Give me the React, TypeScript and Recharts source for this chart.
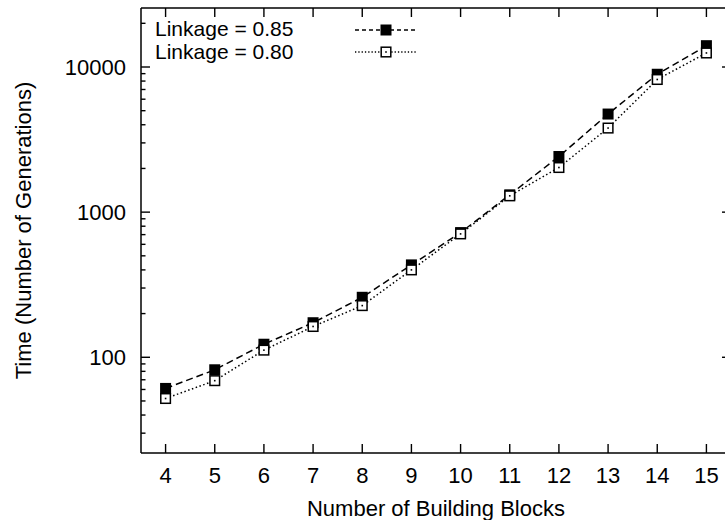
import React from "react";
import {
  Label,
  Legend,
  Line,
  LineChart,
  ReferenceLine,
  XAxis,
  YAxis
} from "recharts";

const blocks = [4, 5, 6, 7, 8, 9, 10, 11, 12, 13, 14, 15];
const linkage85 = [61, 82, 123, 173, 259, 433, 723, 1316, 2417, 4741, 8913, 14025];
const linkage80 = [52, 69, 112, 163, 227, 400, 708, 1295, 2030, 3796, 8204, 12493];

const majorTicks = [100, 1000, 10000];
const minorTicks = [
  30, 40, 50, 60, 70, 80, 90,
  200, 300, 400, 500, 600, 700, 800, 900,
  2000, 3000, 4000, 5000, 6000, 7000, 8000, 9000,
  20000
];

const X_DOMAIN: [number, number] = [3.5, 15.5];
const Y_DOMAIN: [number, number] = [21.9, 25500];

const FONT = '"Liberation Sans", Arial, Helvetica, sans-serif';
const FONT_SIZE = 22;
const PLOT_W = 590;
const PLOT_H = 445;

const data = blocks.map((b, i) => ({ blocks: b, l85: linkage85[i], l80: linkage80[i] }));
const yTicks = [...majorTicks, ...minorTicks].sort((a, b) => a - b);

function XTick({ x, y, payload }: any) {
  return (
    <g>
      <line x1={x} y1={y} x2={x} y2={y - 9} stroke="#000" strokeWidth={1.4} />
      <line x1={x} y1={y - PLOT_H} x2={x} y2={y - PLOT_H + 9} stroke="#000" strokeWidth={1.4} />
      <text x={x} y={y + 30} textAnchor="middle" fontFamily={FONT} fontSize={FONT_SIZE} fill="#000">
        {payload.value}
      </text>
    </g>
  );
}

function YTick({ x, y, payload }: any) {
  const major = majorTicks.includes(payload.value);
  const len = major ? 9 : 4.5;
  return (
    <g>
      <line x1={x} y1={y} x2={x + len} y2={y} stroke="#000" strokeWidth={1.4} />
      <line x1={x + PLOT_W} y1={y} x2={x + PLOT_W - len} y2={y} stroke="#000" strokeWidth={1.4} />
      {major && (
        <text x={x - 15} y={y + 7.5} textAnchor="end" fontFamily={FONT} fontSize={FONT_SIZE} fill="#000">
          {payload.value}
        </text>
      )}
    </g>
  );
}

function FilledSquare({ cx, cy }: any) {
  if (cx == null || cy == null) return null;
  return <rect x={cx - 5.5} y={cy - 5.5} width={11} height={11} fill="#000" />;
}

function OpenSquare({ cx, cy }: any) {
  if (cx == null || cy == null) return null;
  return (
    <g>
      <rect x={cx - 4.8} y={cy - 4.8} width={9.6} height={9.6} fill="#fff" stroke="#000" strokeWidth={1.5} />
      <rect x={cx - 0.8} y={cy - 0.8} width={1.6} height={1.6} fill="#000" />
    </g>
  );
}

const legendRows = [
  { name: "Linkage = 0.85", dash: "4 3", filled: true },
  { name: "Linkage = 0.80", dash: "1.3 2", filled: false }
];

function LegendBox() {
  return (
    <svg width={280} height={72} style={{ display: "block" }}>
      {legendRows.map((row, i) => {
        const base = 35.5 + i * 23.5;
        const ly = 30 + i * 22;
        return (
          <g key={row.name}>
            <text x={7} y={base} fontFamily={FONT} fontSize={21} fill="#000">
              {row.name}
            </text>
            <line x1={207} y1={ly} x2={268} y2={ly} stroke="#000" strokeWidth={1.4} strokeDasharray={row.dash} />
            {row.filled ? <FilledSquare cx={238} cy={ly} /> : <OpenSquare cx={238} cy={ly} />}
          </g>
        );
      })}
    </svg>
  );
}

export default function App() {
  return (
    <div
      style={{
        position: "absolute",
        left: 0,
        top: 0,
        width: 725,
        height: 520,
        overflow: "hidden",
        background: "#fff"
      }}
    >
      <LineChart
        width={740}
        height={520}
        data={data}
        margin={{ top: 8, right: 9, bottom: 0, left: 81 }}
      >
        <XAxis
          dataKey="blocks"
          type="number"
          domain={X_DOMAIN}
          ticks={blocks}
          allowDataOverflow
          interval={0}
          height={67}
          tickSize={0}
          tickMargin={0}
          tickLine={false}
          tick={<XTick />}
          axisLine={{ stroke: "#000", strokeWidth: 1.5 }}
        >
          <Label
            content={({ viewBox }: any) => (
              <text
                x={viewBox.x + viewBox.width / 2}
                y={viewBox.y + 63}
                textAnchor="middle"
                fontFamily={FONT}
                fontSize={FONT_SIZE}
                fill="#000"
              >
                Number of Building Blocks
              </text>
            )}
          />
        </XAxis>
        <YAxis
          scale="log"
          domain={Y_DOMAIN}
          ticks={yTicks}
          allowDataOverflow
          interval={0}
          width={60}
          tickSize={0}
          tickMargin={0}
          tickLine={false}
          tick={<YTick />}
          axisLine={{ stroke: "#000", strokeWidth: 1.5 }}
        >
          <Label
            content={({ viewBox }: any) => {
              const cx = viewBox.x - 58;
              const cy = viewBox.y + viewBox.height / 2;
              return (
                <text
                  x={cx}
                  y={cy}
                  textAnchor="middle"
                  dominantBaseline="central"
                  transform={`rotate(-90 ${cx} ${cy})`}
                  fontFamily={FONT}
                  fontSize={FONT_SIZE}
                  fill="#000"
                >
                  Time (Number of Generations)
                </text>
              );
            }}
          />
        </YAxis>
        <ReferenceLine y={Y_DOMAIN[1]} stroke="#000" strokeWidth={1.5} />
        <ReferenceLine x={X_DOMAIN[1]} stroke="#000" strokeWidth={1.5} />
        <Legend
          layout="vertical"
          align="center"
          verticalAlign="middle"
          wrapperStyle={{ top: 0, left: 148, width: 280 }}
          content={() => <LegendBox />}
        />
        <Line
          dataKey="l85"
          name="Linkage = 0.85"
          stroke="#000"
          strokeWidth={1.5}
          strokeDasharray="7 4"
          dot={<FilledSquare />}
          activeDot={false}
          isAnimationActive={false}
        />
        <Line
          dataKey="l80"
          name="Linkage = 0.80"
          stroke="#000"
          strokeWidth={1.5}
          strokeDasharray="1.5 2.5"
          dot={<OpenSquare />}
          activeDot={false}
          isAnimationActive={false}
        />
      </LineChart>
    </div>
  );
}
